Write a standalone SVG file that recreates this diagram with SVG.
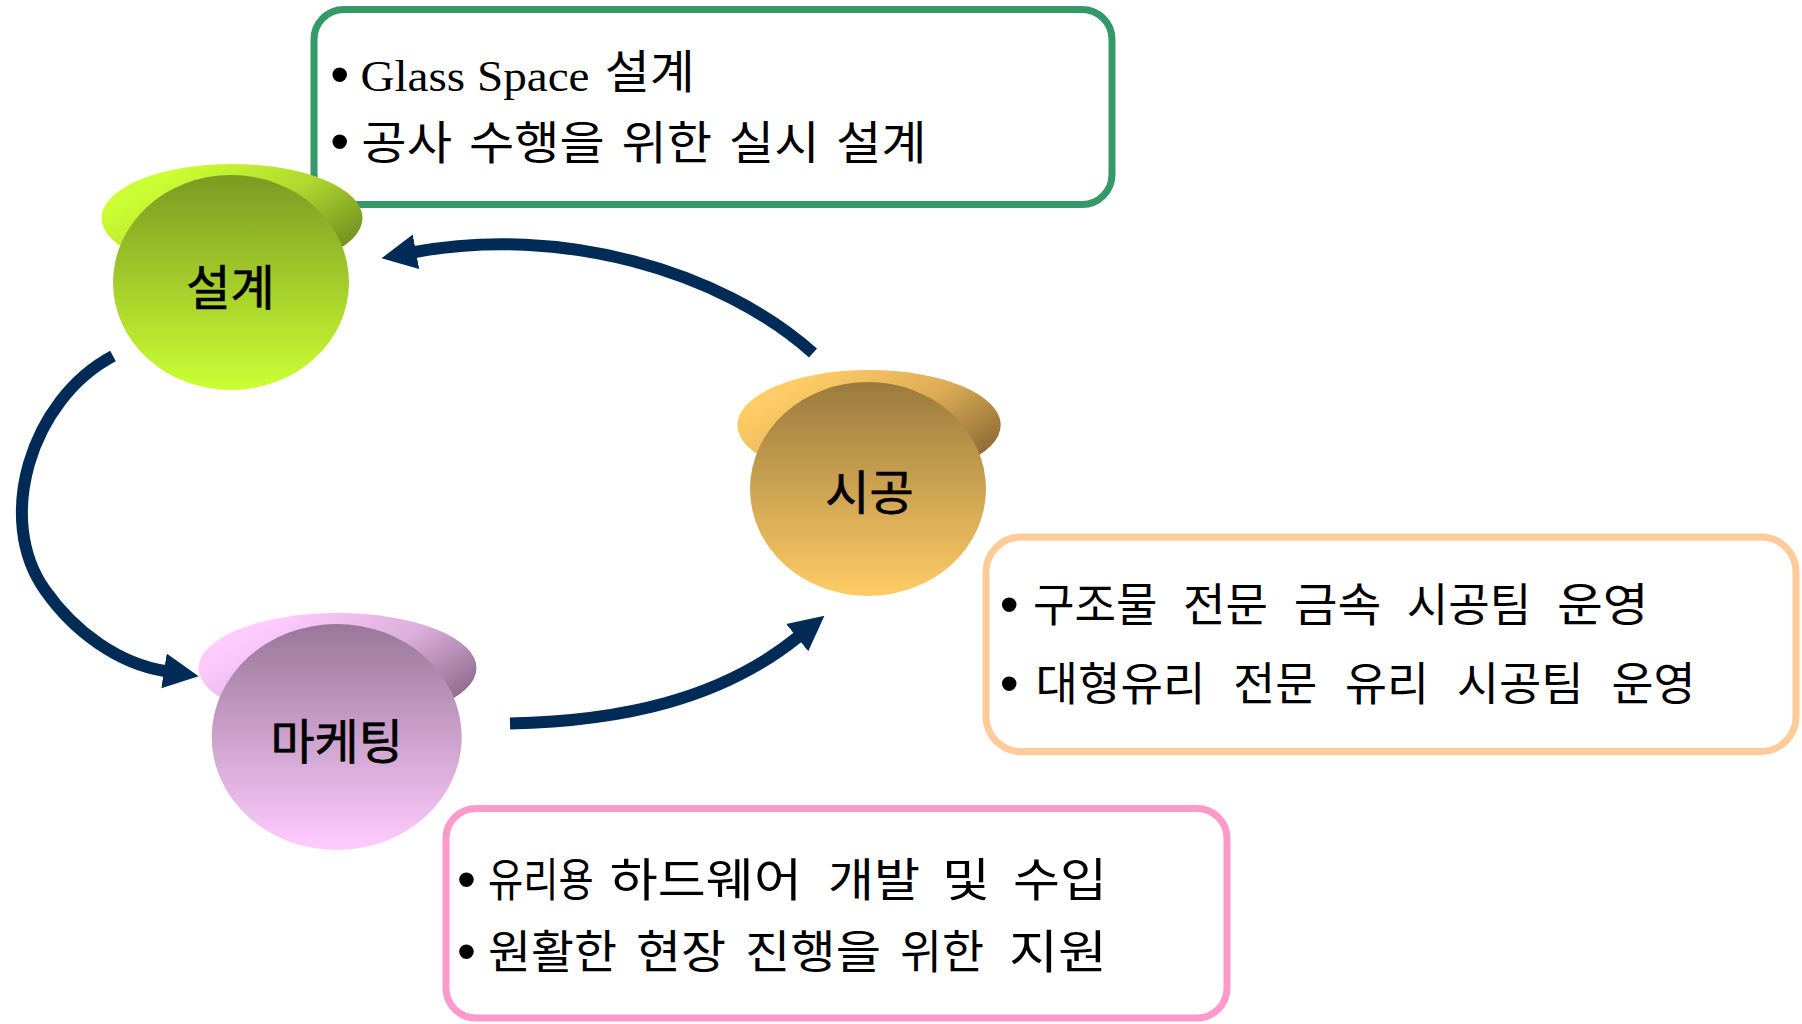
<svg xmlns="http://www.w3.org/2000/svg" width="1802" height="1024" viewBox="0 0 1802 1024">
<style>
.box{fill:#ffffff;stroke-width:7}
.kr{font-family:"Noto Sans CJK KR","Noto Sans",sans-serif;font-size:46px;fill:#000}
.bul{font-family:"Liberation Sans",sans-serif;font-size:54px;fill:#000}
.lat{font-family:"Liberation Serif",serif;font-size:44px;fill:#000}
.lbl{font-family:"Noto Sans CJK KR","Noto Sans",sans-serif;font-size:48px;fill:#000;stroke:#000;stroke-width:0.7;text-anchor:middle}
.arrow{fill:none;stroke:#002b57;stroke-width:12;stroke-linecap:butt;marker-end:url(#ah)}
</style>
<defs>
<marker id="ah" markerUnits="userSpaceOnUse" markerWidth="40" markerHeight="40" viewBox="0 -20 40 40" refX="1" refY="0" orient="auto">
<path d="M0,-17.5 L35,0 L0,17.5 Z" fill="#002b57"/>
</marker>
<linearGradient id="gF" x1="0" y1="0" x2="0" y2="1"><stop offset="0" stop-color="#7b9a22"/><stop offset="1" stop-color="#ccff33"/></linearGradient>
<linearGradient id="gB" x1="0.1" y1="0.3" x2="0.95" y2="0.85"><stop offset="0" stop-color="#ccff33"/><stop offset="0.5" stop-color="#b0d82d"/><stop offset="1" stop-color="#6b861f"/></linearGradient>
<linearGradient id="oF" x1="0" y1="0" x2="0" y2="1"><stop offset="0" stop-color="#9a7a3d"/><stop offset="1" stop-color="#ffcc66"/></linearGradient>
<linearGradient id="oB" x1="0.1" y1="0.3" x2="0.95" y2="0.85"><stop offset="0" stop-color="#ffcc66"/><stop offset="0.5" stop-color="#dcab55"/><stop offset="1" stop-color="#846432"/></linearGradient>
<linearGradient id="pF" x1="0" y1="0" x2="0" y2="1"><stop offset="0" stop-color="#997799"/><stop offset="1" stop-color="#ffccff"/></linearGradient>
<linearGradient id="pB" x1="0.1" y1="0.3" x2="0.95" y2="0.85"><stop offset="0" stop-color="#ffccff"/><stop offset="0.5" stop-color="#dbaedb"/><stop offset="1" stop-color="#866485"/></linearGradient>
</defs>
<rect width="1802" height="1024" fill="#ffffff"/>

<g id="box-design">
<rect class="box" x="314" y="9.5" width="798" height="195" rx="30" stroke="#359869"/>
<text class="bul" x="330.2" y="92.9">•</text>
<text class="lat" x="360.5" y="90.5" textLength="229" lengthAdjust="spacingAndGlyphs">Glass Space</text>
<text class="kr" x="604.7" y="88" textLength="90" lengthAdjust="spacingAndGlyphs">설계</text>
<text class="bul" x="330.2" y="159.5">•</text>
<text class="kr" y="159"><tspan x="361.3" textLength="90.7" lengthAdjust="spacingAndGlyphs">공사</tspan> <tspan x="469" textLength="135.7" lengthAdjust="spacingAndGlyphs">수행을</tspan> <tspan x="621.5" textLength="90.5" lengthAdjust="spacingAndGlyphs">위한</tspan> <tspan x="728.8" textLength="90.7" lengthAdjust="spacingAndGlyphs">실시</tspan> <tspan x="836" textLength="90.7" lengthAdjust="spacingAndGlyphs">설계</tspan></text>
</g>

<g id="box-construction">
<rect class="box" x="986" y="537" width="810" height="214.5" rx="35" stroke="#ffcc99"/>
<text class="bul" x="999.8" y="622.9">•</text>
<text class="kr" y="620.5"><tspan x="1033" textLength="124.5" lengthAdjust="spacingAndGlyphs">구조물</tspan> <tspan x="1183.1" textLength="85" lengthAdjust="spacingAndGlyphs">전문</tspan> <tspan x="1293.7" textLength="87.5" lengthAdjust="spacingAndGlyphs">금속</tspan> <tspan x="1406.8" textLength="124.5" lengthAdjust="spacingAndGlyphs">시공팀</tspan> <tspan x="1556.9" textLength="91.7" lengthAdjust="spacingAndGlyphs">운영</tspan></text>
<text class="bul" x="999.8" y="702.2">•</text>
<text class="kr" y="700"><tspan x="1035.6" textLength="170" lengthAdjust="spacingAndGlyphs">대형유리</tspan> <tspan x="1233.3" textLength="84" lengthAdjust="spacingAndGlyphs">전문</tspan> <tspan x="1345" textLength="84" lengthAdjust="spacingAndGlyphs">유리</tspan> <tspan x="1456.7" textLength="127" lengthAdjust="spacingAndGlyphs">시공팀</tspan> <tspan x="1611.4" textLength="84" lengthAdjust="spacingAndGlyphs">운영</tspan></text>
</g>

<g id="box-marketing">
<rect class="box" x="446" y="808.5" width="781" height="209.5" rx="30" stroke="#ff99cc"/>
<text class="bul" x="456.9" y="897.9">•</text>
<text class="kr" y="895.5"><tspan x="488" textLength="105.7" lengthAdjust="spacingAndGlyphs">유리용</tspan> <tspan x="609.7" textLength="192.3" lengthAdjust="spacingAndGlyphs">하드웨어</tspan> <tspan x="828" textLength="92" lengthAdjust="spacingAndGlyphs">개발</tspan> <tspan x="942" textLength="48" lengthAdjust="spacingAndGlyphs">및</tspan> <tspan x="1013" textLength="94" lengthAdjust="spacingAndGlyphs">수입</tspan></text>
<text class="bul" x="456.9" y="969.5">•</text>
<text class="kr" y="968"><tspan x="488" textLength="129" lengthAdjust="spacingAndGlyphs">원활한</tspan> <tspan x="636" textLength="90" lengthAdjust="spacingAndGlyphs">현장</tspan> <tspan x="745" textLength="136" lengthAdjust="spacingAndGlyphs">진행을</tspan> <tspan x="900" textLength="84" lengthAdjust="spacingAndGlyphs">위한</tspan> <tspan x="1009" textLength="98" lengthAdjust="spacingAndGlyphs">지원</tspan></text>
</g>

<g id="connectors">
<path class="arrow" d="M113,356 C30,400 -5,520 45,590 C75,633 120,664 165,671"/>
<path class="arrow" d="M510,723.5 C620,721 720,700 798,637"/>
<path class="arrow" d="M813,353 C720,270 560,225 415,252"/>
</g>

<g id="node-design">
<ellipse cx="232" cy="218" rx="130.5" ry="54" fill="url(#gB)"/>
<ellipse cx="231" cy="282.5" rx="118" ry="107.5" fill="url(#gF)"/>
<text class="lbl" x="230.5" y="305">설계</text>
</g>

<g id="node-construction">
<ellipse cx="869" cy="425" rx="131.7" ry="55" fill="url(#oB)"/>
<ellipse cx="868" cy="489" rx="118" ry="107" fill="url(#oF)"/>
<text class="lbl" x="869.5" y="510">시공</text>
</g>

<g id="node-marketing">
<ellipse cx="337.5" cy="668" rx="139" ry="55" fill="url(#pB)"/>
<ellipse cx="336.7" cy="737" rx="125" ry="113" fill="url(#pF)"/>
<text class="lbl" x="336.7" y="759">마케팅</text>
</g>
</svg>
